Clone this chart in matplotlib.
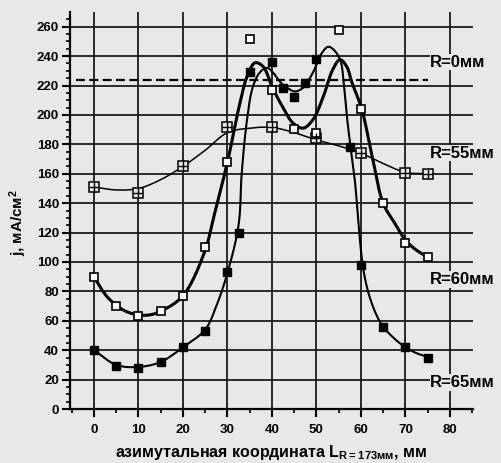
import numpy as np
import matplotlib
matplotlib.use('Agg')
import matplotlib.pyplot as plt

plt.rcParams['font.family'] = ['Liberation Sans', 'DejaVu Sans']
plt.rcParams['font.weight'] = 'bold'
plt.rcParams['mathtext.fontset'] = 'custom'
plt.rcParams['mathtext.rm'] = 'Liberation Sans:bold'
plt.rcParams['mathtext.default'] = 'rm'

# measured points, R = 55 mm
r55_x = [0, 10, 20, 30, 40, 50, 60, 70, 75]
r55_y = [151, 147, 165, 192, 192, 184, 174, 160.6, 160]
# fitted curve, R = 55 mm
r55_cx = [0, 5, 10, 15, 20, 25, 30, 35, 40, 45, 50, 55, 60, 65, 70, 75.5]
r55_cy = [151, 149, 150, 156, 165, 176, 188, 191, 191.5, 188, 183, 179, 174, 167, 161, 160]

# measured points, R = 60 mm
r60_x = [0, 5, 10, 15, 20, 25, 30, 35, 40, 45, 50, 55, 60, 65, 70, 75]
r60_y = [90, 70, 63, 67, 77, 110, 168, 252, 217, 190.6, 188, 258, 204, 140, 113, 103.5]
# fitted curve, R = 60 mm
r60_cx = [0, 2.5, 5, 7.5, 10, 12.5, 15, 20, 25, 26.7, 30, 32.8, 34.4, 36.2, 38,
          40.2, 42.5, 44.7, 47, 49.2, 51.5, 53.7, 55.3, 56.8, 58, 60.2, 62.7,
          65, 67.5, 70, 72.5, 75]
r60_cy = [90, 78, 70.5, 66, 64, 64, 66.5, 77, 108, 128, 168, 208, 226, 235.5, 233,
          218, 205, 194.6, 191, 196.7, 212, 231, 237.6, 233, 222, 204, 169.5,
          140, 127, 115, 108, 103.5]

# measured points, R = 65 mm
r65_x = [0, 5, 10, 15, 20, 25, 30, 32.5, 35, 40, 42.5, 45, 47.5, 50, 57.5, 60, 65, 70, 75]
r65_y = [40, 29, 28, 32, 42, 53, 93, 120, 229, 236, 218, 212, 222, 238, 178, 98, 56, 42, 35]
# fitted curve, R = 65 mm
r65_cx = [0, 5, 10, 15, 20, 25, 27.5, 30, 32.5, 33.2, 34.4, 35.7, 37.3, 38.9, 40.2,
          41.8, 43.4, 45.2, 47, 49.2, 51.2, 52.7, 54.3, 55.5, 56.2, 57, 57.7, 58.7,
          59.4, 60.4, 61.2, 62, 63.5, 65, 67.5, 70, 72.5, 75]
r65_cy = [40, 30, 28.6, 32, 42, 54, 70, 92.6, 125, 160, 196.7, 219, 229, 232, 229,
          222.6, 218.5, 216, 218.5, 228.7, 242, 246.4, 243, 236, 220, 195, 178, 154,
          128, 98, 85, 76, 64, 56, 48, 42, 38, 35.5]

# R = 0 mm level
r0_x = [-4, 75]
r0_y = [224, 224]

labels = ['R=0мм', 'R=55мм', 'R=60мм', 'R=65мм']
label_y = [236, 174, 88, 18]

SX, SY = 4.45, 1.47


def catmull_rom(xs, ys, n=16, alpha=0.5):
    P = np.column_stack([np.asarray(xs, float) * SX, np.asarray(ys, float) * SY])
    P = np.vstack([2 * P[0] - P[1], P, 2 * P[-1] - P[-2]])
    pts = []
    for i in range(len(P) - 3):
        p0, p1, p2, p3 = P[i:i + 4]
        t0 = 0.0
        t1 = t0 + np.linalg.norm(p1 - p0) ** alpha
        t2 = t1 + np.linalg.norm(p2 - p1) ** alpha
        t3 = t2 + np.linalg.norm(p3 - p2) ** alpha
        t = np.linspace(t1, t2, n, endpoint=False)[:, None]
        a1 = (t1 - t) / (t1 - t0) * p0 + (t - t0) / (t1 - t0) * p1
        a2 = (t2 - t) / (t2 - t1) * p1 + (t - t1) / (t2 - t1) * p2
        a3 = (t3 - t) / (t3 - t2) * p2 + (t - t2) / (t3 - t2) * p3
        b1 = (t2 - t) / (t2 - t0) * a1 + (t - t0) / (t2 - t0) * a2
        b2 = (t3 - t) / (t3 - t1) * a2 + (t - t1) / (t3 - t1) * a3
        pts.append((t2 - t) / (t2 - t1) * b1 + (t - t1) / (t2 - t1) * b2)
    pts.append(P[-2][None])
    pts = np.vstack(pts)
    return pts[:, 0] / SX, pts[:, 1] / SY


bg = '#e8e8e8'
fig = plt.figure(figsize=(5.01, 4.63), dpi=100, facecolor=bg)
ax = fig.add_axes([0.1397, 0.1166, 0.8043, 0.8574])
ax.set_facecolor(bg)

ax.set_xlim(-5.4, 85.2)
ax.set_ylim(0, 270)

# grid
for gx in range(0, 81, 10):
    ax.axvline(gx, color='#1a1a1a', lw=1.3, zorder=1)
for gy in range(20, 261, 20):
    ax.axhline(gy, color='#1a1a1a', lw=1.3, zorder=1)

ax.plot(r0_x, r0_y, color='black', lw=1.6, dashes=(4, 2), zorder=3)

x, y = catmull_rom(r55_cx, r55_cy)
ax.plot(x, y, color='black', lw=1.1, zorder=3)
x, y = catmull_rom(r60_cx, r60_cy)
ax.plot(x, y, color='black', lw=2.2, zorder=3)
x, y = catmull_rom(r65_cx, r65_cy)
ax.plot(x, y, color='black', lw=1.5, zorder=3)

ax.plot(r55_x, r55_y, ls='none', marker='s', ms=6.5, mfc=bg, mec='black', mew=1.1, zorder=4)
ax.plot(r55_x, r55_y, ls='none', marker='+', ms=6.5, mec='black', mew=1.0, zorder=5)
ax.plot(r60_x, r60_y, ls='none', marker='s', ms=6, mfc='white', mec='black', mew=1.2, zorder=4)
ax.plot(r65_x, r65_y, ls='none', marker='s', ms=6, mfc='black', mec='black', zorder=4)

for txt, ty in zip(labels, label_y):
    ax.text(75.6, ty, txt, fontsize=12, fontweight='bold', va='center', ha='left',
            zorder=6, clip_on=False,
            bbox=dict(facecolor=bg, edgecolor='none', pad=0.5))

for s in ['top', 'right']:
    ax.spines[s].set_visible(False)
for s in ['left', 'bottom']:
    ax.spines[s].set_linewidth(1.6)

ax.set_xticks(range(0, 81, 10))
ax.set_xticks(np.arange(-5, 86, 5), minor=True)
ax.set_yticks(range(0, 261, 20))
ax.set_yticks(range(0, 266, 5), minor=True)
ax.tick_params(axis='both', which='major', direction='out', length=6, width=1.5,
               labelsize=9.5, pad=2)
ax.tick_params(axis='both', which='minor', direction='out', length=3, width=1.2)
ax.tick_params(axis='x', which='major', pad=5)

ax.set_xlabel('азимутальная координата L$_{R=173мм}$, мм', fontsize=11.5,
              fontweight='bold', labelpad=5)
ax.set_ylabel('j, мА/см$^2$', fontsize=11, fontweight='bold')
ax.yaxis.set_label_coords(-0.102, 0.47)

fig.savefig('out.png', dpi=100, facecolor=bg)
